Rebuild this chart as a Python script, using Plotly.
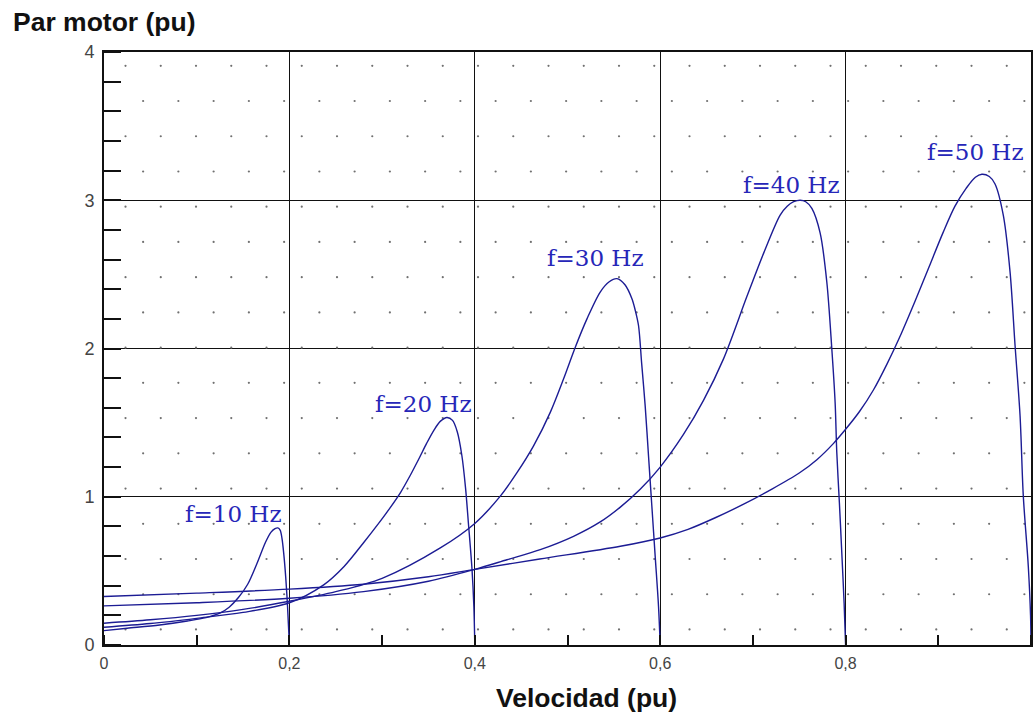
import numpy as np
import plotly.graph_objects as go

# ---- data ----
f10_x = [0, 0.025, 0.06, 0.09, 0.11, 0.125, 0.135, 0.145, 0.155, 0.165, 0.174, 0.180, 0.1845, 0.1875, 0.190, 0.192, 0.194, 0.196, 0.198, 0.2]
f10_y = [0.097, 0.113, 0.135, 0.162, 0.185, 0.215, 0.255, 0.32, 0.41, 0.55, 0.69, 0.76, 0.785, 0.79, 0.775, 0.72, 0.61, 0.46, 0.26, 0.0]

f20_x = [0, 0.05, 0.10, 0.15, 0.20, 0.237, 0.259, 0.28, 0.295, 0.308, 0.32, 0.33, 0.34, 0.348, 0.356, 0.363, 0.370, 0.376, 0.381, 0.386, 0.390, 0.393, 0.397, 0.399, 0.4]
f20_y = [0.12, 0.145, 0.18, 0.22, 0.285, 0.406, 0.53, 0.69, 0.81, 0.92, 1.03, 1.14, 1.26, 1.36, 1.45, 1.51, 1.535, 1.515, 1.44, 1.28, 1.06, 0.83, 0.51, 0.26, 0.0]

f30_x = [0, 0.05, 0.10, 0.15, 0.20, 0.25, 0.30, 0.3628, 0.40, 0.4275, 0.4455, 0.4634, 0.4814, 0.4957, 0.5084, 0.521, 0.5353, 0.545, 0.5533, 0.562, 0.5695, 0.573, 0.5766, 0.5800, 0.5838, 0.5874, 0.591, 0.5946, 0.5982, 0.6]
f30_y = [0.147, 0.17, 0.20, 0.24, 0.295, 0.36, 0.45, 0.655, 0.82, 1.004, 1.162, 1.343, 1.569, 1.794, 2.009, 2.2, 2.381, 2.45, 2.471, 2.43, 2.336, 2.26, 2.155, 1.90, 1.613, 1.275, 0.936, 0.598, 0.26, 0.0]

f40_x = [0, 0.1, 0.2, 0.28, 0.35, 0.40, 0.4347, 0.4706, 0.5065, 0.5353, 0.557, 0.5784, 0.6, 0.6251, 0.6467, 0.6683, 0.6935, 0.7114, 0.7294, 0.737, 0.744, 0.751, 0.757, 0.7636, 0.7725, 0.7797, 0.7851, 0.7887, 0.7905, 0.7933, 0.7959, 0.7984, 0.8]
f40_y = [0.264, 0.285, 0.315, 0.36, 0.43, 0.51, 0.575, 0.643, 0.733, 0.83, 0.93, 1.05, 1.20, 1.42, 1.65, 1.93, 2.35, 2.64, 2.90, 2.96, 2.99, 3.0, 2.99, 2.945, 2.78, 2.45, 2.0, 1.636, 1.298, 0.959, 0.621, 0.282, 0.0]

f50_x = [0, 0.1, 0.2, 0.28, 0.35, 0.4, 0.47, 0.557, 0.6, 0.63, 0.66, 0.69, 0.72, 0.75, 0.769, 0.787, 0.80, 0.815, 0.83, 0.845, 0.86, 0.875, 0.89, 0.905, 0.918, 0.93, 0.94, 0.947, 0.955, 0.9612, 0.9701, 0.9774, 0.9828, 0.9882, 0.9917, 0.9971, 0.9995, 1.0]
f50_y = [0.327, 0.35, 0.377, 0.41, 0.46, 0.51, 0.58, 0.666, 0.722, 0.78, 0.86, 0.95, 1.05, 1.16, 1.25, 1.36, 1.455, 1.575, 1.72, 1.90, 2.10, 2.32, 2.55, 2.78, 2.96, 3.08, 3.155, 3.175, 3.16, 3.11, 2.9, 2.517, 2.02, 1.546, 1.004, 0.53, 0.2, 0.0]

curve_labels = ["f=10 Hz", "f=20 Hz", "f=30 Hz", "f=40 Hz", "f=50 Hz"]
label_x = [0.1397, 0.3445, 0.530, 0.7418, 0.9405]
label_y = [0.884, 1.626, 2.61, 3.103, 3.327]

x_ticks = [0, 0.2, 0.4, 0.6, 0.8, 1.0]
x_tick_text = ["0", "0,2", "0,4", "0,6", "0,8", "1"]
y_ticks = [0, 1, 2, 3, 4]
y_tick_text = ["0", "1", "2", "3", "4"]

LINE = "#1c1c94"
LABEL = "#2626b8"

fig = go.Figure()

# decorative dotted paper background (staggered lattice)
dx = 35.25 / 927.0
dy = 35.23 / 148.25
bx, by = [], []
for r in range(17):
    yy = 3.907 - r * dy
    x0 = 0.0232 if r % 2 == 0 else 0.0232 + dx / 2
    for c in range(30):
        xx = x0 + c * dx
        if 0.003 < xx < 0.997 and 0.02 < yy < 3.98:
            bx.append(xx)
            by.append(yy)
fig.add_trace(go.Scatter(x=bx, y=by, mode="markers",
                         marker=dict(size=2.2, color="#707070"),
                         hoverinfo="skip", showlegend=False))

for xs, ys in [(f10_x, f10_y), (f20_x, f20_y), (f30_x, f30_y), (f40_x, f40_y), (f50_x, f50_y)]:
    fig.add_trace(go.Scatter(x=xs, y=ys, mode="lines",
                             line=dict(color=LINE, width=1.4, shape="spline", smoothing=0.9),
                             showlegend=False, cliponaxis=True))

for t, lx, ly in zip(curve_labels, label_x, label_y):
    fig.add_annotation(x=lx, y=ly, text=t, showarrow=False,
                       font=dict(family="DejaVu Serif", size=23, color=LABEL),
                       xanchor="center", yanchor="middle")

fig.add_annotation(xref="paper", yref="paper", x=-0.1, y=1.0506,
                   text="<b>Par motor (pu)</b>", showarrow=False,
                   font=dict(family="Liberation Sans", size=26.5, color="#111111"),
                   xanchor="left", yanchor="middle")
fig.add_annotation(xref="paper", yref="paper", x=0.521, y=-0.0894,
                   text="<b>Velocidad (pu)</b>", showarrow=False,
                   font=dict(family="Liberation Sans", size=26.5, color="#111111"),
                   xanchor="center", yanchor="middle")

fig.update_layout(
    width=1033, height=714,
    margin=dict(l=104, r=2, t=52, b=69),
    paper_bgcolor="white", plot_bgcolor="white",
    showlegend=False,
    xaxis=dict(range=[0, 1], tickvals=x_ticks, ticktext=x_tick_text,
               showgrid=True, gridcolor="#111111", gridwidth=1.3,
               zeroline=False, showline=True, linecolor="#111111", linewidth=1.8,
               mirror=True, ticks="", ticklabelstandoff=3, automargin=False,
               tickfont=dict(family="Liberation Sans", size=16, color="#444444"),
               minor=dict(dtick=0.1, tick0=0, ticks="inside", ticklen=10,
                          tickcolor="#111111", tickwidth=1.5, showgrid=False)),
    yaxis=dict(range=[0, 4], tickvals=y_ticks, ticktext=y_tick_text,
               showgrid=True, gridcolor="#111111", gridwidth=1.3,
               zeroline=False, showline=True, linecolor="#111111", linewidth=1.8,
               mirror=True, ticks="", ticklabelstandoff=4, automargin=False,
               tickfont=dict(family="Liberation Sans", size=18, color="#444444"),
               minor=dict(dtick=0.2, tick0=0, ticks="inside", ticklen=17,
                          tickcolor="#111111", tickwidth=1.5, showgrid=False)),
)

fig.write_html("out.html", config={"displayModeBar": False},
               post_script="document.body.style.margin='0';document.body.style.overflow='hidden';")
